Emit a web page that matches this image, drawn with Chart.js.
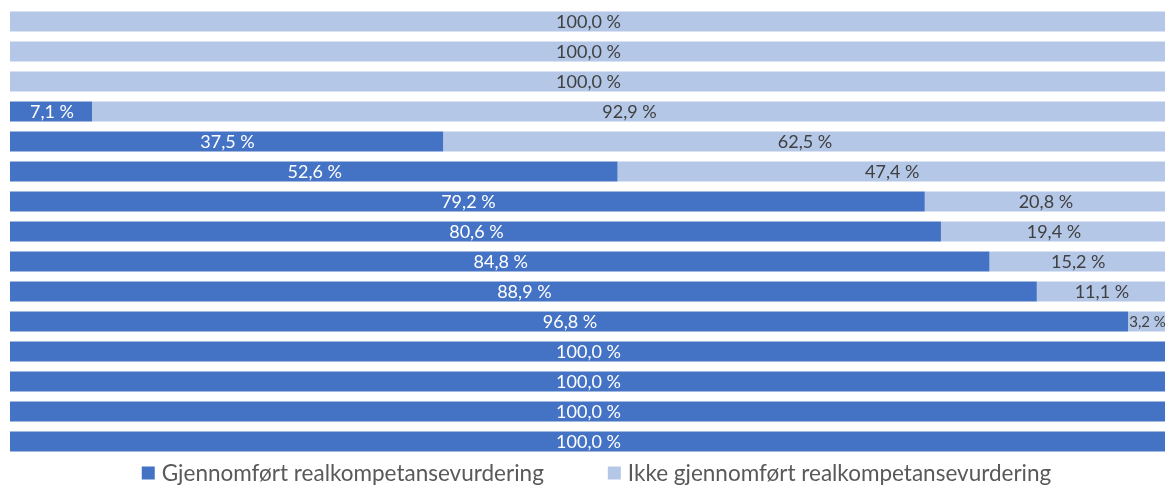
<!DOCTYPE html>
<html>
<head>
<meta charset="utf-8">
<script src="https://cdn.jsdelivr.net/npm/chart.js@4"></script>
<style>
  html, body { margin: 0; padding: 0; background: #fff; }
  #wrap { width: 1169px; height: 486px; }
</style>
</head>
<body>
<div id="wrap"><canvas id="chart" width="1169" height="486"></canvas></div>
<script>
// categories are not shown in the picture, so plain row names are used
const categories = ["1", "2", "3", "4", "5", "6", "7", "8", "9", "10", "11", "12", "13", "14", "15"];
const gjennomfort = [0, 0, 0, 7.1, 37.5, 52.6, 79.2, 80.6, 84.8, 88.9, 96.8, 100, 100, 100, 100];
const ikkeGjennomfort = [100, 100, 100, 92.9, 62.5, 47.4, 20.8, 19.4, 15.2, 11.1, 3.2, 0, 0, 0, 0];
const seriesNames = ["Gjennomført realkompetansevurdering", "Ikke gjennomført realkompetansevurdering"];

const FONT = "Lato, 'Open Sans', sans-serif";

// value labels in the middle of each segment
const barLabels = {
  id: "barLabels",
  afterDatasetsDraw(chart) {
    const ctx = chart.ctx;
    ctx.save();
    ctx.textAlign = "center";
    ctx.textBaseline = "middle";
    chart.data.datasets.forEach((ds, i) => {
      const meta = chart.getDatasetMeta(i);
      meta.data.forEach((bar, j) => {
        const v = ds.data[j];
        if (!v) return;
        const txt = v.toFixed(1).replace(".", ",") + " %";
        const left = Math.min(bar.x, bar.base);
        const w = Math.abs(bar.x - bar.base);
        ctx.font = "18px " + FONT;
        if (ctx.measureText(txt).width > w - 2) ctx.font = "15px " + FONT;
        ctx.fillStyle = i === 0 ? "#ffffff" : "#404040";
        ctx.fillText(txt, left + w / 2 + 1, bar.y + 1);
      });
    });
    ctx.restore();
  }
};

// legend under the bars (wide gap between the two items, like the original)
const bottomLegend = {
  id: "bottomLegend",
  afterDraw(chart) {
    const ctx = chart.ctx;
    const area = chart.chartArea;
    const box = 13, gap = 7, itemGap = 64;
    ctx.save();
    ctx.font = "22.5px " + FONT;
    const widths = chart.data.datasets.map(ds => box + gap + ctx.measureText(ds.label).width);
    const total = widths.reduce((a, b) => a + b, 0) + itemGap * (widths.length - 1);
    let x = (area.left + area.right) / 2 + 9 - total / 2;
    const y = 473;
    ctx.textBaseline = "middle";
    chart.data.datasets.forEach((ds, i) => {
      ctx.fillStyle = ds.backgroundColor;
      ctx.fillRect(x, y - box / 2, box, box);
      ctx.fillStyle = "#595959";
      ctx.fillText(ds.label, x + box + gap, y + 1);
      x += widths[i] + itemGap;
    });
    ctx.restore();
  }
};

new Chart(document.getElementById("chart"), {
  type: "bar",
  data: {
    labels: categories,
    datasets: [
      {
        label: seriesNames[0],
        data: gjennomfort,
        backgroundColor: "#4472C4",
        categoryPercentage: 1,
        barPercentage: 0.66
      },
      {
        label: seriesNames[1],
        data: ikkeGjennomfort,
        backgroundColor: "#B4C7E7",
        categoryPercentage: 1,
        barPercentage: 0.66
      }
    ]
  },
  options: {
    indexAxis: "y",
    responsive: false,
    animation: false,
    layout: { padding: { left: 10, right: 4, top: 6.5, bottom: 29.5 } },
    scales: {
      x: { stacked: true, min: 0, max: 100, display: false },
      y: { stacked: true, display: false }
    },
    plugins: {
      legend: { display: false },
      tooltip: { enabled: false }
    }
  },
  plugins: [barLabels, bottomLegend]
});
</script>
</body>
</html>
